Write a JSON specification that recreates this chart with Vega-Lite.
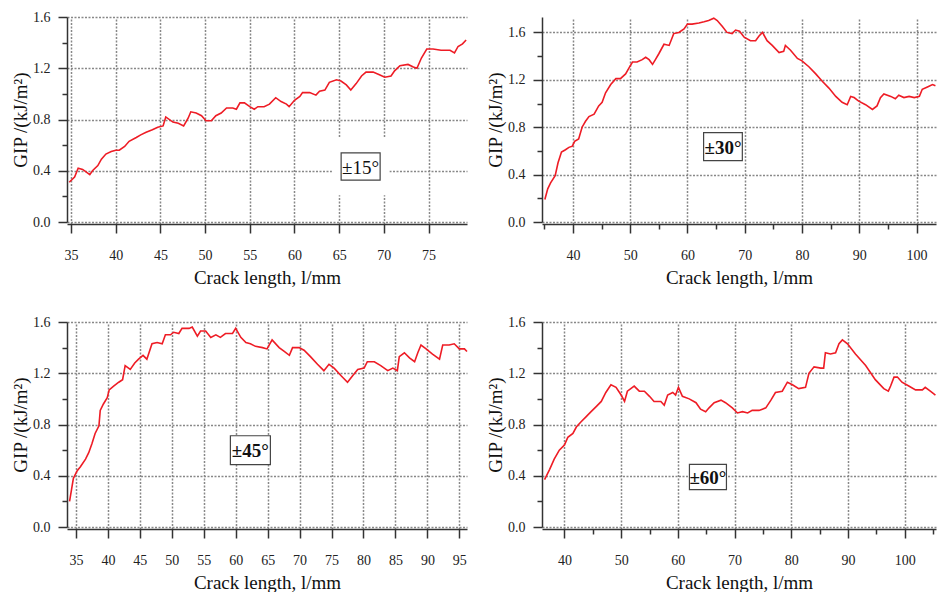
{
  "$schema": "https://vega.github.io/schema/vega-lite/v6.json",
  "background": "white",
  "padding": {"left": 11, "top": 10, "right": 0, "bottom": 0},
  "config": {
    "view": {"stroke": null},
    "axis": {
      "labelFont": "Liberation Serif", "labelFontSize": 14, "labelColor": "#222", "labelOverlap": false, "labelFlush": false,
      "titleFont": "Liberation Serif", "titleFontSize": 19, "titleFontWeight": "normal", "titleColor": "#111",
      "domainColor": "#333", "domainWidth": 1.5, "tickColor": "#333", "tickWidth": 1.5,
      "gridColor": "#888", "gridDash": [2, 1.5], "gridWidth": 1.5
    },
    "axisX": {"offset": 2, "labelPadding": 15, "titlePadding": 6},
    "axisY": {"labelPadding": 8, "titlePadding": 2}
  },
  "datasets": {
    "p15": [
      {"l":34.8,"G":0.31},{"l":35.4,"G":0.35},{"l":35.8,"G":0.42},{"l":36.3,"G":0.41},{"l":37.1,"G":0.37},{"l":37.4,"G":0.40},{"l":38.0,"G":0.44},{"l":38.4,"G":0.49},{"l":38.9,"G":0.53},{"l":39.5,"G":0.55},{"l":40.0,"G":0.56},{"l":40.4,"G":0.56},{"l":41.0,"G":0.59},{"l":41.5,"G":0.63},{"l":42.3,"G":0.66},{"l":42.8,"G":0.68},{"l":43.4,"G":0.70},{"l":44.1,"G":0.72},{"l":44.7,"G":0.74},{"l":45.3,"G":0.75},{"l":45.6,"G":0.82},{"l":46.4,"G":0.78},{"l":47.0,"G":0.77},{"l":47.6,"G":0.75},{"l":48.1,"G":0.81},{"l":48.4,"G":0.86},{"l":49.0,"G":0.85},{"l":49.6,"G":0.83},{"l":50.1,"G":0.79},{"l":50.7,"G":0.79},{"l":51.2,"G":0.83},{"l":51.8,"G":0.85},{"l":52.4,"G":0.89},{"l":53.1,"G":0.89},{"l":53.5,"G":0.88},{"l":53.9,"G":0.93},{"l":54.4,"G":0.93},{"l":55.0,"G":0.90},{"l":55.5,"G":0.88},{"l":55.9,"G":0.90},{"l":56.6,"G":0.90},{"l":57.2,"G":0.92},{"l":57.9,"G":0.97},{"l":58.5,"G":0.94},{"l":59.1,"G":0.92},{"l":59.4,"G":0.90},{"l":60.0,"G":0.95},{"l":60.6,"G":0.98},{"l":60.9,"G":1.01},{"l":61.7,"G":1.01},{"l":62.4,"G":0.99},{"l":62.8,"G":1.02},{"l":63.4,"G":1.03},{"l":63.9,"G":1.09},{"l":64.7,"G":1.11},{"l":65.2,"G":1.10},{"l":65.8,"G":1.07},{"l":66.3,"G":1.03},{"l":66.9,"G":1.08},{"l":67.5,"G":1.14},{"l":68.0,"G":1.17},{"l":68.8,"G":1.17},{"l":69.5,"G":1.15},{"l":70.1,"G":1.13},{"l":70.8,"G":1.14},{"l":71.2,"G":1.18},{"l":71.8,"G":1.22},{"l":72.7,"G":1.23},{"l":73.3,"G":1.21},{"l":73.7,"G":1.20},{"l":74.2,"G":1.28},{"l":74.8,"G":1.35},{"l":75.5,"G":1.35},{"l":76.4,"G":1.34},{"l":77.4,"G":1.34},{"l":77.9,"G":1.32},{"l":78.3,"G":1.37},{"l":78.8,"G":1.39},{"l":79.2,"G":1.42}
    ],
    "p30": [
      {"l":35.1,"G":0.19},{"l":35.6,"G":0.28},{"l":36.1,"G":0.33},{"l":36.9,"G":0.39},{"l":37.4,"G":0.50},{"l":38.0,"G":0.59},{"l":38.7,"G":0.61},{"l":39.3,"G":0.63},{"l":39.9,"G":0.64},{"l":40.3,"G":0.68},{"l":41.0,"G":0.70},{"l":41.6,"G":0.80},{"l":42.2,"G":0.85},{"l":42.8,"G":0.89},{"l":43.7,"G":0.91},{"l":44.5,"G":0.98},{"l":45.1,"G":1.01},{"l":45.7,"G":1.09},{"l":46.6,"G":1.16},{"l":47.5,"G":1.21},{"l":48.3,"G":1.21},{"l":49.2,"G":1.25},{"l":49.8,"G":1.30},{"l":50.4,"G":1.35},{"l":51.2,"G":1.35},{"l":52.1,"G":1.37},{"l":52.7,"G":1.39},{"l":53.3,"G":1.37},{"l":53.9,"G":1.33},{"l":54.4,"G":1.37},{"l":55.0,"G":1.42},{"l":55.9,"G":1.50},{"l":56.8,"G":1.49},{"l":57.6,"G":1.59},{"l":58.5,"G":1.60},{"l":59.4,"G":1.63},{"l":60.0,"G":1.67},{"l":60.8,"G":1.67},{"l":62.0,"G":1.68},{"l":62.9,"G":1.69},{"l":63.7,"G":1.70},{"l":64.6,"G":1.72},{"l":65.2,"G":1.70},{"l":66.1,"G":1.65},{"l":66.9,"G":1.60},{"l":67.8,"G":1.59},{"l":68.4,"G":1.62},{"l":69.1,"G":1.61},{"l":69.9,"G":1.56},{"l":71.0,"G":1.53},{"l":71.9,"G":1.53},{"l":72.5,"G":1.57},{"l":73.1,"G":1.60},{"l":73.9,"G":1.53},{"l":74.8,"G":1.49},{"l":76.0,"G":1.43},{"l":76.8,"G":1.44},{"l":77.1,"G":1.49},{"l":78.0,"G":1.45},{"l":79.2,"G":1.38},{"l":80.0,"G":1.36},{"l":81.2,"G":1.31},{"l":82.4,"G":1.25},{"l":83.5,"G":1.19},{"l":84.7,"G":1.13},{"l":85.9,"G":1.06},{"l":87.0,"G":1.01},{"l":87.9,"G":0.99},{"l":88.5,"G":1.06},{"l":89.1,"G":1.05},{"l":89.9,"G":1.02},{"l":91.1,"G":0.99},{"l":92.3,"G":0.95},{"l":93.1,"G":0.98},{"l":93.7,"G":1.05},{"l":94.3,"G":1.08},{"l":95.5,"G":1.06},{"l":96.3,"G":1.04},{"l":96.9,"G":1.07},{"l":97.8,"G":1.05},{"l":98.7,"G":1.06},{"l":99.6,"G":1.05},{"l":100.5,"G":1.06},{"l":101.0,"G":1.12},{"l":101.9,"G":1.14},{"l":102.8,"G":1.16},{"l":103.3,"G":1.15}
    ],
    "p45": [
      {"l":34.0,"G":0.20},{"l":34.3,"G":0.29},{"l":34.6,"G":0.38},{"l":35.2,"G":0.44},{"l":35.7,"G":0.47},{"l":36.5,"G":0.53},{"l":37.0,"G":0.58},{"l":37.5,"G":0.65},{"l":38.0,"G":0.73},{"l":38.6,"G":0.79},{"l":38.8,"G":0.91},{"l":39.3,"G":0.96},{"l":39.9,"G":1.01},{"l":40.2,"G":1.07},{"l":40.9,"G":1.10},{"l":41.7,"G":1.13},{"l":42.3,"G":1.15},{"l":42.7,"G":1.26},{"l":43.5,"G":1.23},{"l":44.2,"G":1.28},{"l":44.8,"G":1.31},{"l":45.5,"G":1.34},{"l":46.1,"G":1.31},{"l":46.9,"G":1.43},{"l":47.7,"G":1.44},{"l":48.5,"G":1.43},{"l":49.0,"G":1.50},{"l":49.8,"G":1.50},{"l":50.3,"G":1.52},{"l":51.1,"G":1.51},{"l":51.6,"G":1.55},{"l":52.7,"G":1.55},{"l":53.2,"G":1.56},{"l":54.0,"G":1.49},{"l":54.5,"G":1.53},{"l":55.3,"G":1.53},{"l":56.1,"G":1.48},{"l":56.9,"G":1.50},{"l":57.6,"G":1.48},{"l":58.4,"G":1.51},{"l":59.5,"G":1.51},{"l":60.0,"G":1.55},{"l":60.8,"G":1.48},{"l":61.6,"G":1.44},{"l":62.3,"G":1.43},{"l":63.1,"G":1.41},{"l":64.2,"G":1.40},{"l":64.9,"G":1.39},{"l":65.7,"G":1.46},{"l":66.8,"G":1.40},{"l":67.6,"G":1.37},{"l":68.4,"G":1.34},{"l":68.9,"G":1.40},{"l":69.9,"G":1.40},{"l":70.7,"G":1.38},{"l":71.7,"G":1.33},{"l":72.8,"G":1.27},{"l":73.8,"G":1.22},{"l":74.6,"G":1.27},{"l":75.4,"G":1.24},{"l":76.5,"G":1.18},{"l":77.5,"G":1.13},{"l":78.3,"G":1.18},{"l":79.1,"G":1.23},{"l":80.1,"G":1.24},{"l":80.6,"G":1.29},{"l":81.7,"G":1.29},{"l":82.7,"G":1.26},{"l":83.8,"G":1.22},{"l":84.6,"G":1.24},{"l":85.3,"G":1.22},{"l":85.6,"G":1.33},{"l":86.4,"G":1.36},{"l":87.2,"G":1.32},{"l":88.0,"G":1.29},{"l":88.5,"G":1.36},{"l":89.0,"G":1.42},{"l":89.8,"G":1.39},{"l":90.8,"G":1.35},{"l":91.9,"G":1.31},{"l":92.4,"G":1.42},{"l":93.4,"G":1.42},{"l":94.2,"G":1.43},{"l":95.0,"G":1.39},{"l":95.8,"G":1.39},{"l":96.2,"G":1.37}
    ],
    "p60": [
      {"l":36.5,"G":0.37},{"l":37.4,"G":0.45},{"l":38.2,"G":0.53},{"l":39.1,"G":0.60},{"l":40.0,"G":0.64},{"l":40.6,"G":0.70},{"l":41.5,"G":0.73},{"l":42.1,"G":0.78},{"l":42.9,"G":0.82},{"l":43.8,"G":0.86},{"l":44.7,"G":0.90},{"l":45.6,"G":0.94},{"l":46.5,"G":0.98},{"l":47.3,"G":1.05},{"l":48.2,"G":1.11},{"l":49.1,"G":1.09},{"l":50.0,"G":1.03},{"l":50.6,"G":0.98},{"l":51.1,"G":1.06},{"l":52.3,"G":1.10},{"l":53.2,"G":1.06},{"l":54.1,"G":1.06},{"l":55.0,"G":1.02},{"l":55.8,"G":0.98},{"l":57.0,"G":0.98},{"l":57.6,"G":0.95},{"l":58.2,"G":1.03},{"l":59.1,"G":1.05},{"l":59.6,"G":1.03},{"l":60.1,"G":1.09},{"l":60.8,"G":1.02},{"l":62.0,"G":1.00},{"l":63.2,"G":0.97},{"l":64.0,"G":0.92},{"l":64.9,"G":0.90},{"l":65.5,"G":0.93},{"l":66.4,"G":0.97},{"l":67.6,"G":0.99},{"l":68.4,"G":0.97},{"l":69.6,"G":0.93},{"l":70.5,"G":0.89},{"l":71.4,"G":0.90},{"l":72.3,"G":0.89},{"l":73.1,"G":0.91},{"l":74.3,"G":0.91},{"l":75.5,"G":0.93},{"l":76.4,"G":0.99},{"l":77.2,"G":1.05},{"l":78.4,"G":1.06},{"l":79.3,"G":1.13},{"l":80.2,"G":1.11},{"l":81.3,"G":1.08},{"l":82.5,"G":1.09},{"l":83.1,"G":1.20},{"l":84.0,"G":1.25},{"l":85.2,"G":1.24},{"l":85.7,"G":1.24},{"l":86.0,"G":1.36},{"l":86.9,"G":1.35},{"l":87.8,"G":1.36},{"l":88.4,"G":1.43},{"l":89.0,"G":1.46},{"l":89.9,"G":1.43},{"l":91.3,"G":1.35},{"l":93.1,"G":1.26},{"l":94.8,"G":1.15},{"l":96.3,"G":1.08},{"l":97.1,"G":1.06},{"l":97.5,"G":1.10},{"l":98.1,"G":1.17},{"l":98.7,"G":1.17},{"l":99.5,"G":1.13},{"l":100.7,"G":1.10},{"l":101.9,"G":1.07},{"l":103.1,"G":1.07},{"l":103.6,"G":1.09},{"l":104.5,"G":1.06},{"l":105.4,"G":1.03}
    ]
  },
  "columns": 2,
  "bounds": "flush",
  "spacing": {"row": 100, "column": 75},
  "concat": [
    {
      "width": 400, "height": 205,
      "encoding": {
        "x": {"field": "l", "type": "quantitative", "scale": {"domain": [34.55, 79.3], "nice": false, "zero": false},
              "axis": {"values": [35,40,45,50,55,60,65,70,75], "tickSize": 9, "labelOverlap": false, "title": "Crack length, l/mm"}},
        "y": {"field": "G", "type": "quantitative", "scale": {"domain": [0, 1.6], "nice": false},
              "axis": {"values": [0,0.2,0.4,0.6,0.8,1,1.2,1.4,1.6], "title": "GIP /(kJ/m²)", "labelOverlap": false,
                       "labelExpr": "round(datum.value*10) % 4 == 0 ? format(datum.value, '.1f') : ''",
                       "tickSize": {"condition": {"test": "round(datum.value*10) % 4 == 0", "value": 9}, "value": 5},
                       "gridOpacity": {"condition": {"test": "round(datum.value*10) % 4 == 0", "value": 1}, "value": 0}}}
      },
      "layer": [
        {"data": {"name": "p15"}, "mark": {"type": "line", "color": "#ee1c25", "strokeWidth": 1.6}},
        {"data": {"values": [{"l": 67.4, "G": 0.433, "label": "±15°"}]},
         "layer": [
           {"mark": {"type": "point", "shape": "square", "size": 3300, "filled": true, "fill": "white", "opacity": 1, "strokeWidth": 0}},
           {"mark": {"type": "point", "shape": "M-1,-0.7L1,-0.7L1,0.7L-1,0.7Z", "size": 1521, "filled": true, "fill": "white", "stroke": "#444", "strokeWidth": 1.2, "opacity": 1}},
           {"mark": {"type": "text", "font": "Liberation Serif", "fontSize": 19, "color": "#111", "align": "center", "baseline": "middle", "dy": 1}, "encoding": {"text": {"field": "label"}}}
         ]}
      ]
    },
    {
      "width": 394, "height": 205,
      "encoding": {
        "x": {"field": "l", "type": "quantitative", "scale": {"domain": [34.6, 103.4], "nice": false, "zero": false},
              "axis": {"values": [35,40,45,50,55,60,65,70,75,80,85,90,95,100], "title": "Crack length, l/mm", "labelOverlap": false,
                       "labelExpr": "datum.value % 10 == 0 ? datum.label : ''",
                       "tickSize": {"condition": {"test": "datum.value % 10 == 0", "value": 9}, "value": 5},
                       "gridOpacity": {"condition": {"test": "datum.value % 10 == 0", "value": 1}, "value": 0}}},
        "y": {"field": "G", "type": "quantitative", "scale": {"domain": [0, 1.73], "nice": false},
              "axis": {"values": [0,0.2,0.4,0.6,0.8,1,1.2,1.4,1.6], "title": "GIP /(kJ/m²)", "labelOverlap": false,
                       "labelExpr": "round(datum.value*10) % 4 == 0 ? format(datum.value, '.1f') : ''",
                       "tickSize": {"condition": {"test": "round(datum.value*10) % 4 == 0", "value": 9}, "value": 5},
                       "gridOpacity": {"condition": {"test": "round(datum.value*10) % 4 == 0", "value": 1}, "value": 0}}}
      },
      "layer": [
        {"data": {"name": "p30"}, "mark": {"type": "line", "color": "#ee1c25", "strokeWidth": 1.6}},
        {"data": {"values": [{"l": 66.2, "G": 0.636, "label": "±30°"}]},
         "layer": [
           {"mark": {"type": "point", "shape": "M-1,-0.72L1,-0.72L1,0.72L-1,0.72Z", "size": 1500, "filled": true, "fill": "white", "stroke": "#444", "strokeWidth": 1.2, "opacity": 1}},
           {"mark": {"type": "text", "font": "Liberation Serif", "fontSize": 19, "fontWeight": "bold", "color": "#111", "align": "center", "baseline": "middle", "dy": 1}, "encoding": {"text": {"field": "label"}}}
         ]}
      ]
    },
    {
      "width": 400, "height": 205,
      "encoding": {
        "x": {"field": "l", "type": "quantitative", "scale": {"domain": [33.6, 96.2], "nice": false, "zero": false},
              "axis": {"values": [35,40,45,50,55,60,65,70,75,80,85,90,95], "tickSize": 9, "labelOverlap": false, "title": "Crack length, l/mm"}},
        "y": {"field": "G", "type": "quantitative", "scale": {"domain": [0, 1.6], "nice": false},
              "axis": {"values": [0,0.2,0.4,0.6,0.8,1,1.2,1.4,1.6], "title": "GIP /(kJ/m²)", "labelOverlap": false,
                       "labelExpr": "round(datum.value*10) % 4 == 0 ? format(datum.value, '.1f') : ''",
                       "tickSize": {"condition": {"test": "round(datum.value*10) % 4 == 0", "value": 9}, "value": 5},
                       "gridOpacity": {"condition": {"test": "round(datum.value*10) % 4 == 0", "value": 1}, "value": 0}}}
      },
      "layer": [
        {"data": {"name": "p45"}, "mark": {"type": "line", "color": "#ee1c25", "strokeWidth": 1.6}},
        {"data": {"values": [{"l": 62.3, "G": 0.60, "label": "±45°"}]},
         "layer": [
           {"mark": {"type": "point", "shape": "M-1,-0.72L1,-0.72L1,0.72L-1,0.72Z", "size": 1600, "filled": true, "fill": "white", "stroke": "#444", "strokeWidth": 1.2, "opacity": 1}},
           {"mark": {"type": "text", "font": "Liberation Serif", "fontSize": 19, "fontWeight": "bold", "color": "#111", "align": "center", "baseline": "middle", "dy": 1}, "encoding": {"text": {"field": "label"}}}
         ]}
      ]
    },
    {
      "width": 394, "height": 205,
      "encoding": {
        "x": {"field": "l", "type": "quantitative", "scale": {"domain": [36.05, 105.5], "nice": false, "zero": false},
              "axis": {"values": [40,45,50,55,60,65,70,75,80,85,90,95,100,105], "title": "Crack length, l/mm", "labelOverlap": false,
                       "labelExpr": "datum.value % 10 == 0 ? datum.label : ''",
                       "tickSize": {"condition": {"test": "datum.value % 10 == 0", "value": 9}, "value": 5},
                       "gridOpacity": {"condition": {"test": "datum.value % 10 == 0", "value": 1}, "value": 0}}},
        "y": {"field": "G", "type": "quantitative", "scale": {"domain": [0, 1.6], "nice": false},
              "axis": {"values": [0,0.2,0.4,0.6,0.8,1,1.2,1.4,1.6], "title": "GIP /(kJ/m²)", "labelOverlap": false,
                       "labelExpr": "round(datum.value*10) % 4 == 0 ? format(datum.value, '.1f') : ''",
                       "tickSize": {"condition": {"test": "round(datum.value*10) % 4 == 0", "value": 9}, "value": 5},
                       "gridOpacity": {"condition": {"test": "round(datum.value*10) % 4 == 0", "value": 1}, "value": 0}}}
      },
      "layer": [
        {"data": {"name": "p60"}, "mark": {"type": "line", "color": "#ee1c25", "strokeWidth": 1.6}},
        {"data": {"values": [{"l": 65.3, "G": 0.39, "label": "±60°"}]},
         "layer": [
           {"mark": {"type": "point", "shape": "M-1,-0.68L1,-0.68L1,0.68L-1,0.68Z", "size": 1370, "filled": true, "fill": "white", "stroke": "#444", "strokeWidth": 1.2, "opacity": 1}},
           {"mark": {"type": "text", "font": "Liberation Serif", "fontSize": 19, "fontWeight": "bold", "color": "#111", "align": "center", "baseline": "middle", "dy": 1}, "encoding": {"text": {"field": "label"}}}
         ]}
      ]
    }
  ]
}
